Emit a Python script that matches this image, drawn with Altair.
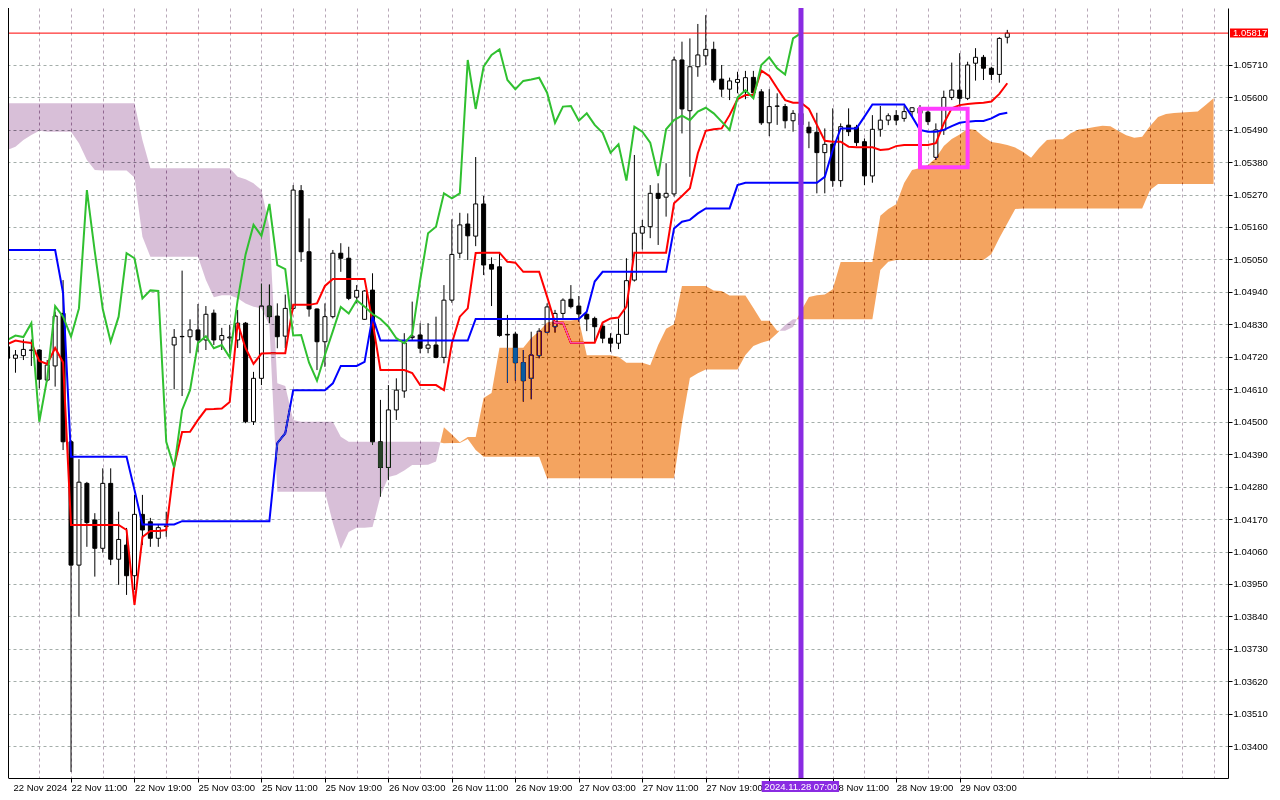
import altair as alt
import pandas as pd

# ---------------- data (EURUSD H1, Ichimoku) ----------------
# label under the purple time marker (28 Nov 03:00) is hidden in the reference
TIME_LABELS = ["22 Nov 2024", "22 Nov 11:00", "22 Nov 19:00", "25 Nov 03:00", "25 Nov 11:00",
               "25 Nov 19:00", "26 Nov 03:00", "26 Nov 11:00", "26 Nov 19:00", "27 Nov 03:00",
               "27 Nov 11:00", "27 Nov 19:00", "", "28 Nov 11:00", "28 Nov 19:00",
               "29 Nov 03:00"]

PRICE_TICKS = [1.05710, 1.05600, 1.05490, 1.05380, 1.05270, 1.05160, 1.05050, 1.04940, 1.04830,
               1.04720, 1.04610, 1.04500, 1.04390, 1.04280, 1.04170, 1.04060, 1.03950, 1.03840,
               1.03730, 1.03620, 1.03510, 1.03400]

OPEN = [1.04754, 1.04715, 1.04724, 1.04742, 1.04743, 1.04641, 1.04689, 1.04867, 1.04432, 1.04014,
        1.04291, 1.04167, 1.04071, 1.04291, 1.04034, 1.04082, 1.03978, 1.04186, 1.04161, 1.04105,
        1.04145, 1.04760, 1.04789, 1.04788, 1.04811, 1.04777, 1.04868, 1.04777, 1.04784, 1.04777,
        1.04834, 1.04500, 1.04647, 1.04892, 1.04858, 1.04790, 1.04884, 1.05283, 1.05076, 1.04882,
        1.04771, 1.04856, 1.05071, 1.05054, 1.04922, 1.04847, 1.04946, 1.04432, 1.04345, 1.04540,
        1.04604, 1.04785, 1.04794, 1.04749, 1.04760, 1.04718, 1.04912, 1.05071, 1.05170, 1.05129,
        1.05238, 1.05033, 1.05025, 1.04796, 1.04797, 1.04700, 1.04647, 1.04724, 1.04803, 1.04822,
        1.04867, 1.04915, 1.04892, 1.04864, 1.04850, 1.04824, 1.04783, 1.04766, 1.04796, 1.04980,
        1.05139, 1.05161, 1.05274, 1.05261, 1.05272, 1.05726, 1.05554, 1.05703, 1.05740, 1.05762,
        1.05661, 1.05627, 1.05650, 1.05618, 1.05667, 1.05618, 1.05513, 1.05569, 1.05568, 1.05520,
        1.05545, 1.05498, 1.05481, 1.05412, 1.05441, 1.05317, 1.05505, 1.05498, 1.05449, 1.05333,
        1.05491, 1.05522, 1.05538, 1.05528, 1.05551, 1.05563, 1.05549, 1.05396, 1.05489, 1.05599,
        1.05624, 1.05596, 1.05715, 1.05735, 1.05698, 1.05677, 1.05803]

HIGH = [1.04767, 1.04743, 1.04779, 1.04779, 1.04746, 1.04709, 1.04873, 1.04980, 1.04438, 1.04373,
        1.04296, 1.04190, 1.04342, 1.04342, 1.04195, 1.04140, 1.04252, 1.04252, 1.04174, 1.04150,
        1.04195, 1.04814, 1.05012, 1.04847, 1.04899, 1.04892, 1.04880, 1.04818, 1.04828, 1.04879,
        1.04838, 1.04669, 1.04968, 1.04965, 1.04901, 1.04931, 1.05302, 1.05302, 1.05189, 1.04884,
        1.04901, 1.05082, 1.05105, 1.05093, 1.04963, 1.04946, 1.05003, 1.04574, 1.04624, 1.04647,
        1.04800, 1.04907, 1.04834, 1.04834, 1.04856, 1.04963, 1.05186, 1.05208, 1.05206, 1.05397,
        1.05265, 1.05057, 1.05071, 1.04862, 1.04805, 1.04743, 1.04805, 1.04817, 1.04901, 1.04879,
        1.04918, 1.04963, 1.04926, 1.04869, 1.04856, 1.04834, 1.04800, 1.04850, 1.05054, 1.05404,
        1.05184, 1.05302, 1.05308, 1.05376, 1.05737, 1.05788, 1.05799, 1.05848, 1.05878, 1.05788,
        1.05709, 1.05666, 1.05686, 1.05689, 1.05689, 1.05627, 1.05627, 1.05613, 1.05577, 1.05556,
        1.05556, 1.05517, 1.05547, 1.05494, 1.05562, 1.05511, 1.05562, 1.05506, 1.05460, 1.05539,
        1.05570, 1.05545, 1.05556, 1.05570, 1.05566, 1.05573, 1.05556, 1.05511, 1.05622, 1.05717,
        1.05749, 1.05720, 1.05766, 1.05743, 1.05703, 1.05803, 1.05828]

LOW = [1.04702, 1.04666, 1.04709, 1.04689, 1.04613, 1.04636, 1.04619, 1.04404, 1.03313, 1.03839,
       1.04076, 1.03975, 1.04056, 1.04014, 1.03947, 1.03913, 1.03930, 1.04082, 1.04076, 1.04076,
       1.04110, 1.04610, 1.04587, 1.04732, 1.04737, 1.04743, 1.04760, 1.04743, 1.04733, 1.04750,
       1.04495, 1.04489, 1.04624, 1.04834, 1.04749, 1.04749, 1.04879, 1.05042, 1.04856, 1.04675,
       1.04686, 1.04850, 1.05008, 1.04912, 1.04901, 1.04845, 1.04421, 1.04246, 1.04302, 1.04506,
       1.04581, 1.04777, 1.04732, 1.04732, 1.04715, 1.04698, 1.04903, 1.05054, 1.05048, 1.05095,
       1.04997, 1.04892, 1.04788, 1.04632, 1.04639, 1.04568, 1.04576, 1.04715, 1.04800, 1.04802,
       1.04850, 1.04884, 1.04839, 1.04807, 1.04771, 1.04766, 1.04737, 1.04746, 1.04794, 1.04975,
       1.05084, 1.05122, 1.05099, 1.05195, 1.05263, 1.05477, 1.05330, 1.05669, 1.05709, 1.05649,
       1.05601, 1.05590, 1.05613, 1.05593, 1.05596, 1.05506, 1.05468, 1.05506, 1.05494, 1.05483,
       1.05489, 1.05427, 1.05274, 1.05274, 1.05296, 1.05296, 1.05468, 1.05434, 1.05302, 1.05310,
       1.05466, 1.05505, 1.05505, 1.05517, 1.05534, 1.05536, 1.05506, 1.05387, 1.05472, 1.05590,
       1.05568, 1.05590, 1.05656, 1.05658, 1.05658, 1.05649, 1.05782]

CLOSE = [1.04715, 1.04726, 1.04745, 1.04743, 1.04644, 1.04692, 1.04858, 1.04432, 1.04014, 1.04295,
         1.04158, 1.04071, 1.04291, 1.04034, 1.04101, 1.03978, 1.04186, 1.04133, 1.04105, 1.04141,
         1.04147, 1.04786, 1.04788, 1.04811, 1.04777, 1.04864, 1.04777, 1.04792, 1.04787, 1.04834,
         1.04500, 1.04647, 1.04892, 1.04856, 1.04788, 1.04884, 1.05285, 1.05076, 1.04882, 1.04771,
         1.04856, 1.05071, 1.05054, 1.04918, 1.04945, 1.04943, 1.04432, 1.04345, 1.04540, 1.04607,
         1.04767, 1.04790, 1.04749, 1.04760, 1.04718, 1.04912, 1.05067, 1.05167, 1.05130, 1.05238,
         1.05031, 1.05017, 1.04792, 1.04794, 1.04700, 1.04639, 1.04726, 1.04807, 1.04889, 1.04867,
         1.04912, 1.04890, 1.04865, 1.04848, 1.04822, 1.04783, 1.04766, 1.04796, 1.04978, 1.05139,
         1.05161, 1.05274, 1.05257, 1.05274, 1.05726, 1.05560, 1.05703, 1.05743, 1.05762, 1.05658,
         1.05627, 1.05655, 1.05660, 1.05666, 1.05615, 1.05513, 1.05568, 1.05570, 1.05520, 1.05545,
         1.05506, 1.05479, 1.05412, 1.05440, 1.05317, 1.05500, 1.05483, 1.05446, 1.05333, 1.05491,
         1.05522, 1.05537, 1.05522, 1.05551, 1.05564, 1.05545, 1.05517, 1.05489, 1.05599, 1.05624,
         1.05596, 1.05709, 1.05735, 1.05698, 1.05677, 1.05799, 1.05817]

TENKAN = [1.04763, 1.04775, 1.04770, 1.04767, 1.04706, 1.04696, 1.04750, 1.04701, 1.04150, 1.04150,
          1.04150, 1.04150, 1.04150, 1.04150, 1.04150, 1.04133, 1.03879, 1.04109, 1.04130, 1.04130,
          1.04133, 1.04350, 1.04465, 1.04466, 1.04506, 1.04542, 1.04543, 1.04545, 1.04567, 1.04834,
          1.04749, 1.04696, 1.04731, 1.04732, 1.04732, 1.04732, 1.04896, 1.04896, 1.04896, 1.04901,
          1.04960, 1.04984, 1.04984, 1.04984, 1.04984, 1.04984, 1.04839, 1.04675, 1.04675, 1.04675,
          1.04675, 1.04665, 1.04624, 1.04624, 1.04624, 1.04607, 1.04766, 1.04856, 1.04884, 1.05072,
          1.05073, 1.05073, 1.05073, 1.05042, 1.05039, 1.05008, 1.05008, 1.05008, 1.04924, 1.04835,
          1.04835, 1.04768, 1.04768, 1.04768, 1.04768, 1.04836, 1.04850, 1.04853, 1.04890, 1.05073,
          1.05073, 1.05073, 1.05073, 1.05073, 1.05240, 1.05265, 1.05291, 1.05410, 1.05486, 1.05491,
          1.05494, 1.05539, 1.05593, 1.05607, 1.05607, 1.05690, 1.05672, 1.05630, 1.05590, 1.05581,
          1.05581, 1.05560, 1.05506, 1.05452, 1.05449, 1.05449, 1.05432, 1.05430, 1.05430, 1.05430,
          1.05421, 1.05423, 1.05434, 1.05438, 1.05438, 1.05438, 1.05438, 1.05444, 1.05511, 1.05562,
          1.05573, 1.05577, 1.05579, 1.05581, 1.05585, 1.05611, 1.05647]

KIJUN = [1.05082, 1.05082, 1.05082, 1.05082, 1.05082, 1.05082, 1.05082, 1.04936, 1.04381, 1.04381,
         1.04381, 1.04381, 1.04381, 1.04381, 1.04381, 1.04381, 1.04269, 1.04152, 1.04152, 1.04152,
         1.04152, 1.04152, 1.04163, 1.04163, 1.04163, 1.04163, 1.04163, 1.04163, 1.04163, 1.04163,
         1.04163, 1.04163, 1.04163, 1.04163, 1.04427, 1.04461, 1.04607, 1.04607, 1.04607, 1.04607,
         1.04607, 1.04630, 1.04689, 1.04689, 1.04689, 1.04703, 1.04856, 1.04775, 1.04775, 1.04775,
         1.04775, 1.04775, 1.04775, 1.04775, 1.04775, 1.04775, 1.04775, 1.04775, 1.04775, 1.04848,
         1.04848, 1.04848, 1.04848, 1.04848, 1.04848, 1.04848, 1.04848, 1.04848, 1.04848, 1.04848,
         1.04848, 1.04848, 1.04848, 1.04873, 1.04975, 1.05008, 1.05008, 1.05008, 1.05008, 1.05008,
         1.05008, 1.05008, 1.05008, 1.05008, 1.05155, 1.05178, 1.05184, 1.05206, 1.05223, 1.05223,
         1.05223, 1.05223, 1.05302, 1.05310, 1.05310, 1.05310, 1.05310, 1.05310, 1.05310, 1.05310,
         1.05310, 1.05310, 1.05310, 1.05330, 1.05421, 1.05494, 1.05494, 1.05494, 1.05534, 1.05575,
         1.05575, 1.05575, 1.05575, 1.05575, 1.05534, 1.05489, 1.05483, 1.05483, 1.05489, 1.05502,
         1.05513, 1.05517, 1.05519, 1.05519, 1.05528, 1.05542, 1.05547]

SPAN_A = [1.05421, 1.05432, 1.05455, 1.05472, 1.05486, 1.05483, 1.05483, 1.05483, 1.05483, 1.05444,
          1.05387, 1.05353, 1.05351, 1.05351, 1.05351, 1.05351, 1.05328, 1.05127, 1.05059, 1.05059,
          1.05059, 1.05059, 1.05059, 1.05059, 1.05059, 1.04980, 1.04922, 1.04929, 1.04929, 1.04918,
          1.04901, 1.04890, 1.04884, 1.04828, 1.04263, 1.04263, 1.04263, 1.04263, 1.04263, 1.04263,
          1.04263, 1.04157, 1.04069, 1.04126, 1.04141, 1.04141, 1.04143, 1.04248, 1.04313, 1.04319,
          1.04335, 1.04353, 1.04353, 1.04354, 1.04365, 1.04481, 1.04457, 1.04430, 1.04448, 1.04448,
          1.04580, 1.04597, 1.04751, 1.04751, 1.04751, 1.04751, 1.04784, 1.04807, 1.04836, 1.04841,
          1.04843, 1.04843, 1.04846, 1.04725, 1.04725, 1.04725, 1.04725, 1.04720, 1.04700, 1.04700,
          1.04700, 1.04691, 1.04760, 1.04815, 1.04830, 1.04960, 1.04960, 1.04960, 1.04960, 1.04945,
          1.04943, 1.04928, 1.04928, 1.04928, 1.04885, 1.04842, 1.04842, 1.04808, 1.04808, 1.04821,
          1.04875, 1.04923, 1.04929, 1.04931, 1.04949, 1.05041, 1.05041, 1.05041, 1.05041, 1.05041,
          1.05198, 1.05221, 1.05237, 1.05309, 1.05353, 1.05360, 1.05370, 1.05394, 1.05434, 1.05458,
          1.05473, 1.05493, 1.05489, 1.05466, 1.05448, 1.05444, 1.05438, 1.05429, 1.05414, 1.05395,
          1.05428, 1.05455, 1.05457, 1.05457, 1.05478, 1.05490, 1.05494, 1.05499, 1.05503, 1.05501,
          1.05485, 1.05471, 1.05462, 1.05466, 1.05502, 1.05533, 1.05543, 1.05546, 1.05548, 1.05550,
          1.05551, 1.05573, 1.05596]

SPAN_B = [1.05579, 1.05579, 1.05579, 1.05579, 1.05579, 1.05579, 1.05579, 1.05579, 1.05579, 1.05579,
          1.05579, 1.05579, 1.05579, 1.05579, 1.05579, 1.05579, 1.05579, 1.05455, 1.05359, 1.05359,
          1.05359, 1.05359, 1.05359, 1.05359, 1.05359, 1.05359, 1.05359, 1.05359, 1.05359, 1.05330,
          1.05322, 1.05308, 1.05285, 1.05161, 1.04630, 1.04621, 1.04506, 1.04500, 1.04500, 1.04500,
          1.04500, 1.04500, 1.04449, 1.04432, 1.04432, 1.04432, 1.04432, 1.04432, 1.04432, 1.04432,
          1.04432, 1.04432, 1.04432, 1.04432, 1.04432, 1.04427, 1.04428, 1.04428, 1.04441, 1.04404,
          1.04381, 1.04381, 1.04381, 1.04381, 1.04381, 1.04381, 1.04381, 1.04381, 1.04308, 1.04308,
          1.04308, 1.04308, 1.04308, 1.04308, 1.04308, 1.04308, 1.04308, 1.04308, 1.04308, 1.04308,
          1.04308, 1.04308, 1.04308, 1.04308, 1.04308, 1.04496, 1.04648, 1.04664, 1.04677, 1.04677,
          1.04677, 1.04677, 1.04677, 1.04726, 1.04757, 1.04768, 1.04775, 1.04800, 1.04828, 1.04847,
          1.04847, 1.04847, 1.04847, 1.04847, 1.04847, 1.04847, 1.04847, 1.04847, 1.04847, 1.04847,
          1.05014, 1.05042, 1.05048, 1.05048, 1.05048, 1.05048, 1.05048, 1.05048, 1.05048, 1.05048,
          1.05048, 1.05048, 1.05048, 1.05048, 1.05068, 1.05123, 1.05172, 1.05221, 1.05223, 1.05223,
          1.05223, 1.05223, 1.05223, 1.05223, 1.05223, 1.05223, 1.05223, 1.05223, 1.05223, 1.05223,
          1.05223, 1.05223, 1.05223, 1.05223, 1.05285, 1.05306, 1.05306, 1.05306, 1.05306, 1.05306,
          1.05306, 1.05306, 1.05306]

CHIKOU_SHIFT = 26
MARKER_BAR = 100
MARKER_TEXT = "2024.11.28 07:00"
BOX = {"x1": 115, "x2": 121, "p1": 1.05561, "p2": 1.05362}

# ---------------- layout ----------------
W, H = 1220, 770
X_MIN = 0.6875
X_MAX = X_MIN + W / 8.0
Y_MIN, Y_MAX = 1.032925, 1.059021
FONT = "Liberation Sans"
FS = 9.5
LAST_LABEL_BAR = 8 * (len(TIME_LABELS) - 1)

bars = pd.DataFrame({"i": list(range(len(OPEN))), "o": OPEN, "h": HIGH, "l": LOW, "c": CLOSE,
                     "tenkan": TENKAN, "kijun": KIJUN})
chik = pd.DataFrame({"i": [k - CHIKOU_SHIFT for k in range(len(CLOSE))], "v": CLOSE})

# cloud polygon vertices (add the crossing vertex where the spans swap order)
rows = []
n = len(SPAN_A)
for k in range(n):
    a, b = SPAN_A[k], SPAN_B[k]
    rows.append((float(k), a, b))
    if k < n - 1:
        d0 = a - b
        d1 = SPAN_A[k + 1] - SPAN_B[k + 1]
        if d0 * d1 < 0:
            t = d0 / (d0 - d1)
            yc = a + t * (SPAN_A[k + 1] - a)
            rows.append((k + t, yc, yc))
cloud = pd.DataFrame(rows, columns=["x", "a", "b"])
cloud["lo"] = cloud[["a", "b"]].min(axis=1)

xs = alt.Scale(domain=[X_MIN, X_MAX], nice=False, zero=False)
ys = alt.Scale(domain=[Y_MIN, Y_MAX], nice=False, zero=False)

lab_arr = "[" + ",".join("'%s'" % s for s in TIME_LABELS) + "]"
XAXIS = alt.Axis(
    values=[X_MIN] + list(range(4, 153, 4)), title=None,
    labelExpr=("datum.value < 1 ? %s[0] : ((datum.value %% 8 === 0 && datum.value / 8 < %d) ? %s[datum.value / 8] : '')"
               % (lab_arr, len(TIME_LABELS), lab_arr)),
    labelAlign="left", labelBaseline="top", labelFlush=False, labelOverlap=False, labelBound=False,
    labelFont=FONT, labelFontSize=FS, labelColor="black", labelPadding=0,
    tickColor="black", tickSize=4, tickWidth=1,
    tickOpacity={"condition": {"test": "datum.value %% 8 === 0 && datum.value <= %d" % LAST_LABEL_BAR,
                               "value": 1}, "value": 0},
    domainColor="black", domainWidth=1,
    grid=True, gridColor="#b8a8b8", gridDash=[3, 3], gridWidth=1,
    gridOpacity={"condition": {"test": "datum.value % 4 === 0", "value": 1}, "value": 0})

YAXIS = alt.Axis(
    values=PRICE_TICKS, format=".5f", orient="right", title=None,
    labelFont=FONT, labelFontSize=FS, labelColor="black", labelPadding=1,
    labelAlign="left", labelBaseline="middle", labelFlush=False, labelOverlap=False,
    tickColor="black", tickSize=4, tickWidth=1, domainColor="black", domainWidth=1,
    grid=True, gridColor="#a4aeaa", gridDash=[3, 3], gridWidth=1)


def X(f):
    return alt.X(f, type="quantitative", scale=xs, axis=XAXIS)


def Y(f):
    return alt.Y(f, type="quantitative", scale=ys, axis=YAXIS)


base = alt.Chart(bars)

wicks = base.mark_rule(color="black", strokeWidth=1).encode(x=X("i"), y=Y("l"), y2="h")
bodies = base.mark_bar(width=4, stroke="black", strokeWidth=1, orient="vertical").encode(
    x=X("i"), y=Y("o"), y2="c",
    fill=alt.condition("datum.c >= datum.o", alt.value("white"), alt.value("black")))
tenkan = base.mark_line(color="#ff0000", strokeWidth=2).encode(x=X("i"), y=Y("tenkan"))
kijun = base.mark_line(color="#0000ff", strokeWidth=2).encode(x=X("i"), y=Y("kijun"))

# cloud drawn with a difference blend (inverse colours) so that it looks like MT5's XOR filling
thistle = alt.Chart(cloud).mark_area(fill="#274027", blend="difference", orient="vertical",
                                     interpolate="linear", strokeWidth=0).encode(
    x=X("x"), y=Y("b"), y2="lo")
orange = alt.Chart(cloud).mark_area(fill="#0b5b9f", blend="difference", orient="vertical",
                                    interpolate="linear", strokeWidth=0).encode(
    x=X("x"), y=Y("a"), y2="lo")

chikou = alt.Chart(chik).mark_line(color="#30c030", strokeWidth=2).encode(x=X("i"), y=Y("v"))

last = CLOSE[-1]
price_df = pd.DataFrame({"p": [last], "hi": [last + 0.000153], "lo": [last - 0.000153],
                         "txt": ["%.5f" % last]})
price_line = alt.Chart(price_df).mark_rule(color="#ff0000", strokeWidth=1).encode(y=Y("p"))

marker_df = pd.DataFrame({"i": [MARKER_BAR], "txt": [MARKER_TEXT]})
vline = alt.Chart(marker_df).mark_rule(color="#8a2be2", strokeWidth=5).encode(x=X("i"))

box = alt.Chart(pd.DataFrame([BOX])).mark_rect(fill="transparent", stroke="#ff3cff",
                                               strokeWidth=4).encode(
    x=X("x1"), x2="x2", y=Y("p1"), y2="p2")

tl_rect = alt.Chart(marker_df).transform_calculate(
    xa="datum.i - 4.95", xb="datum.i + 4.8").mark_rect(color="#8a2be2").encode(
    x=X("xa"), x2="xb", y=alt.value(H + 3), y2=alt.value(H + 14))
tl_text = alt.Chart(marker_df).mark_text(color="white", font=FONT, fontSize=FS, align="center",
                                         baseline="middle").encode(
    x=X("i"), y=alt.value(H + 8.5), text="txt:N")

pl_rect = alt.Chart(price_df).mark_rect(color="#ff0000").encode(
    x=alt.value(W + 2), x2=alt.value(W + 40), y=Y("hi"), y2="lo")
pl_text = alt.Chart(price_df).mark_text(color="white", font=FONT, fontSize=FS, align="left",
                                        baseline="middle").encode(
    x=alt.value(W + 5), y=Y("p"), text="txt:N")

left_border = alt.Chart(price_df).mark_rule(color="black", strokeWidth=1).encode(
    x=alt.value(0.5), y=alt.value(0), y2=alt.value(H))

chart = alt.layer(
    wicks, bodies, tenkan, kijun, thistle, orange, chikou, price_line, vline, box,
    tl_rect, tl_text, pl_rect, pl_text, left_border
).properties(
    width=W, height=H,
    padding={"left": 0, "top": 0, "right": 44, "bottom": 14},
    autosize=alt.AutoSizeParams(type="none"),
    background="white",
).configure_view(strokeWidth=0)

chart.save("out.html", embed_options={"renderer": "svg", "actions": False})
